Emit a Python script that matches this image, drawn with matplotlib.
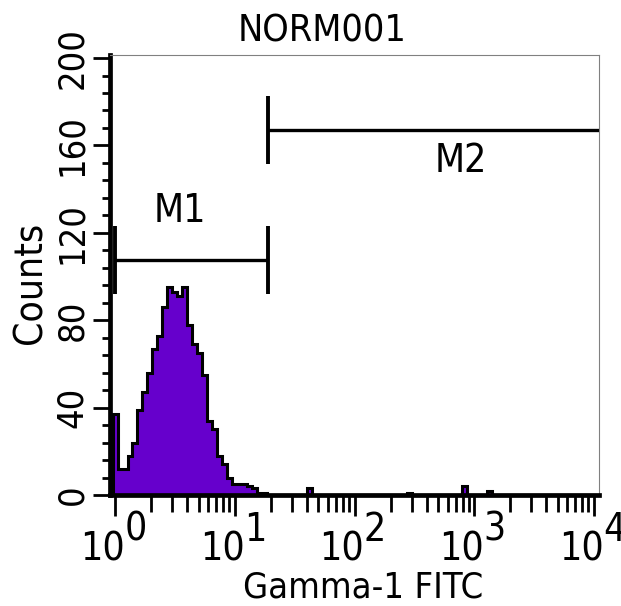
import numpy as np
import matplotlib.pyplot as plt
from matplotlib.ticker import FixedLocator, NullFormatter

plt.rcParams['font.family'] = ['DejaVu Sans']
plt.rcParams['font.stretch'] = 'condensed'

# histogram channels, 24 per decade, channel k is centred on 10**(k/24)
main_counts = [37, 12, 12, 18, 24, 39, 47, 56, 67, 73, 86, 95, 93, 91, 95,
               78, 69, 65, 55, 34, 30, 18, 14, 8, 5, 5, 5, 4, 3, 1, 1]
rare_channels = [39, 59, 70, 75]
rare_counts = [3, 1, 4, 2]
n_channels = 97

# marker regions
m_names = ['M1', 'M2']
m_left = [1.0, 19.0]
m_right = [19.0, 13000.0]
m_level = [107.5, 167.0]
m_text_x = [3.5, 775]
m_text_y = [125, 148]

y_ticks = [0, 40, 80, 120, 160, 200]
y_tick_labels = ['0', '40', '80', '120', '160', '200']
x_decades = [0, 1, 2, 3, 4]

purple = '#6600cc'
fs = 28

counts = np.zeros(n_channels)
counts[:len(main_counts)] = main_counts
counts[rare_channels] = rare_counts
edges = 10 ** ((np.arange(n_channels + 1) - 0.5) / 24)

fig = plt.figure(figsize=(6.21, 6.06), dpi=100)
ax = fig.add_axes([110 / 621, 111 / 606, 489 / 621, 440 / 606])

ax.stairs(counts, edges, fill=True, color=purple, zorder=2)
ax.stairs(counts, edges, color='black', linewidth=2.2, zorder=3)

# gate markers
for i in range(len(m_names)):
    ax.hlines(m_level[i], m_left[i], m_right[i], color='black', linewidth=2.4, zorder=4)
    ax.vlines([m_left[i], m_right[i]], m_level[i] - 15.5, m_level[i] + 15.5,
              color='black', linewidth=2.8, zorder=4)
    ax.text(m_text_x[i], m_text_y[i], m_names[i], fontsize=fs, ha='center', va='baseline')

ax.set_xscale('log')
ax.set_xlim(10 ** -0.042, 10 ** 4.042)
ax.set_ylim(0, 201.4)

ax.xaxis.set_major_locator(FixedLocator([10 ** d for d in x_decades]))
ax.xaxis.set_minor_locator(FixedLocator([m * 10 ** d for d in x_decades[:-1] for m in range(2, 10)]))
ax.xaxis.set_major_formatter(NullFormatter())
ax.xaxis.set_minor_formatter(NullFormatter())

ax.set_yticks(y_ticks)
ax.set_yticklabels(y_tick_labels, rotation=90, va='center', ha='right', fontsize=26)
ax.yaxis.set_minor_locator(FixedLocator([v for v in range(0, 201, 8) if v % 40]))

ax.tick_params(axis='x', which='major', length=15, width=2, direction='out', color='black')
ax.tick_params(axis='x', which='minor', length=12, width=2, direction='out', color='black')
ax.tick_params(axis='y', which='major', length=12, width=2, direction='out', pad=3, color='black')
ax.tick_params(axis='y', which='minor', length=6, width=2, direction='out', color='black')

for side in ['left', 'bottom']:
    ax.spines[side].set_linewidth(3.4)
    ax.spines[side].set_color('black')
for side in ['top', 'right']:
    ax.spines[side].set_linewidth(0.8)
    ax.spines[side].set_color('#808080')

# decade labels written as "10" with a full size exponent
for d in x_decades:
    ax.annotate('10', xy=(10 ** d, 0), xycoords=('data', 'axes fraction'),
                xytext=(7, -47.5), textcoords='offset points',
                ha='right', va='baseline', fontsize=fs)
    ax.annotate(str(d), xy=(10 ** d, 0), xycoords=('data', 'axes fraction'),
                xytext=(6.7, -33), textcoords='offset points',
                ha='left', va='baseline', fontsize=fs, annotation_clip=False)

fig.text(322 / 621, 1 - 42 / 606, 'NORM001', fontsize=27, ha='center', va='baseline')
fig.text(363 / 621, 0.002, 'Gamma-1 FITC', fontsize=26, ha='center', va='bottom')
fig.text(42 / 621, 1 - 283 / 606, 'Counts', fontsize=fs, rotation=90,
         rotation_mode='anchor', ha='center', va='baseline')

fig.savefig('out.png', dpi=100)
